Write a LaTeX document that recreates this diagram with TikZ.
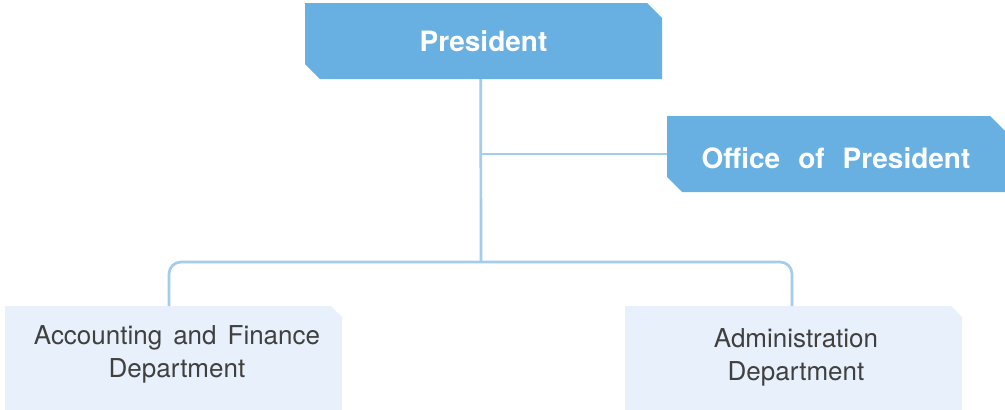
\documentclass[tikz,border=0pt]{standalone}
\usepackage{fontspec}
\setmainfont{TeX Gyre Heros}
\usetikzlibrary{backgrounds,calc}
\definecolor{boxblue}{HTML}{68B0E2}
\definecolor{lineblue}{HTML}{A3CDEE}
\definecolor{boxlight}{HTML}{E8F1FB}
\definecolor{txtgray}{HTML}{404040}
\tikzset{
  headbox/.style={rectangle, inner sep=0pt, outer sep=0pt, text=white,
    font=\fontsize{28}{32}\selectfont\bfseries},
  deptbox/.style={rectangle, inner sep=0pt, outer sep=0pt},
  depttext/.style={align=center, text=txtgray, inner sep=0pt,
    font=\fontsize{26}{33}\selectfont},
  conn/.style={draw=lineblue, line width=2.7pt},
}
\newcommand{\chamferfill}[4]{% node, color, cut, both corners(1)/ne only(0)
  \ifnum#4=1
  \fill[#2] (#1.north west) -- ([xshift=-#3]#1.north east) -- ([yshift=-#3]#1.north east)
    -- (#1.south east) -- ([xshift=#3]#1.south west) -- ([yshift=#3]#1.south west) -- cycle;
  \else
  \fill[#2] (#1.north west) -- ([xshift=-#3]#1.north east) -- ([yshift=-#3]#1.north east)
    -- (#1.south east) -- (#1.south west) -- cycle;
  \fi}
\begin{document}
\begin{tikzpicture}[x=1pt,y=-1pt]
\useasboundingbox (0,0) rectangle (1005,410);
% nodes
\node[headbox, minimum width=357pt, minimum height=76pt, text height=21pt, text depth=0pt] (pres) at (483.5,41) {President};
\node[headbox, minimum width=338pt, minimum height=76pt, text height=29pt, text depth=0pt] (office) at (836,154)
  {Office\hspace*{18pt}of\hspace*{18pt}President};
\node[deptbox, minimum width=337pt, minimum height=110pt, anchor=north] (acc) at (173.5,306) {};
\node[deptbox, minimum width=337pt, minimum height=110pt, anchor=north] (adm) at (793.5,306) {};
\node[depttext] (acct) at (177,354.5) {Accounting\hspace*{11pt}and\hspace*{11pt}Finance\\Department};
\node[depttext] (admt) at (796,357) {Administration\\Department};
\coordinate (bus) at (481,262);
\begin{scope}[on background layer]
  \chamferfill{pres}{boxblue}{15pt}{1}
  \chamferfill{office}{boxblue}{15pt}{1}
  \chamferfill{acc}{boxlight}{11pt}{0}
  \chamferfill{adm}{boxlight}{11pt}{0}
  % connectors
  \draw[conn] ([xshift=-2.8pt]pres.south) -- (bus);
  \draw[conn] ([xshift=-2.8pt]pres.south |- office.west) -- (office.west);
  \draw[conn, rounded corners=12pt] ([xshift=-4.5pt]acc.north) -- ([xshift=-4.5pt]acc.north |- bus)
     -- ([xshift=-1.5pt]adm.north |- bus) -- ([xshift=-1.5pt]adm.north);
\end{scope}
\end{tikzpicture}
\end{document}
